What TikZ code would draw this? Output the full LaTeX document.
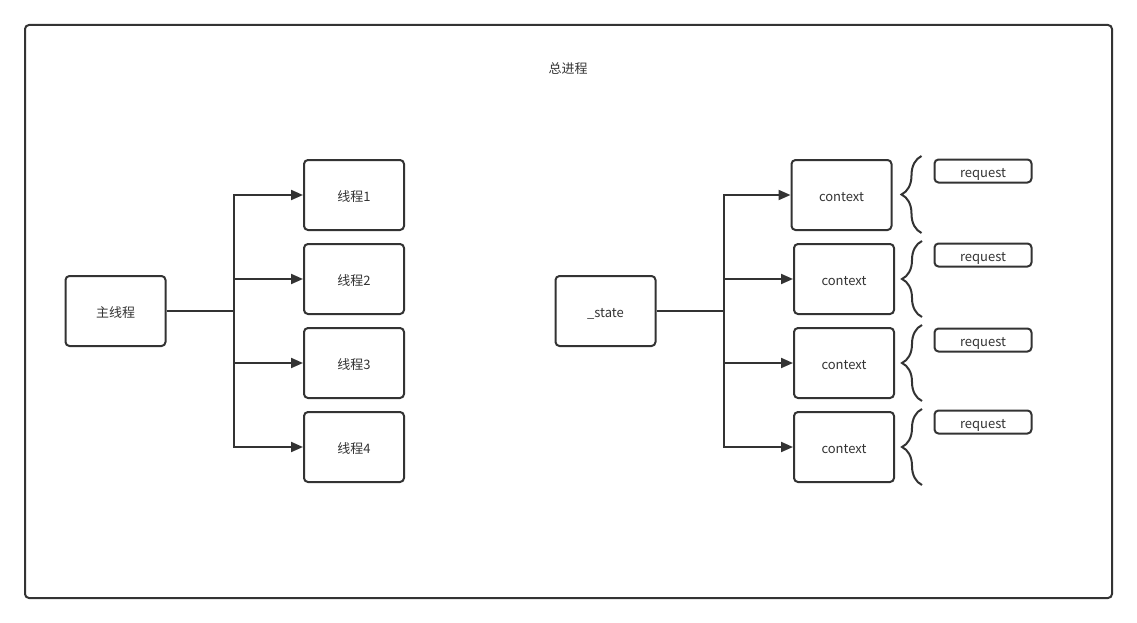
\documentclass[tikz,border=0pt]{standalone}
\usepackage{fontspec}
\setmainfont{Noto Sans CJK SC}
\usepackage{xcolor}
\usepackage{tikz}
\usetikzlibrary{arrows.meta,decorations.pathreplacing}
\definecolor{ink}{HTML}{333333}

\begin{document}
\begin{tikzpicture}[x=1pt, y=-1pt, >={Triangle[length=12pt,width=10pt]},
                    line width=2pt, color=ink, font=\fontsize{13}{15}\selectfont]

\tikzstyle{box}   = [rectangle, draw, rounded corners=4pt,
                      minimum width=100pt, minimum height=70pt, align=center,
                      text height=1.3em, text depth=0.1em]
\tikzstyle{reqbox} = [rectangle, draw, rounded corners=4pt,
                      minimum width=97pt, minimum height=23pt, inner sep=0pt,
                      text height=1.3em, text depth=0.1em]
\tikzstyle{curly} = [decorate, decoration={brace, amplitude=20pt}]

\useasboundingbox (0,0) rectangle (1137,623);

% ── Outer frame: the whole process ───────────────────
\node[draw, rounded corners=4pt, minimum width=1087pt, minimum height=573pt,
      inner sep=0pt] (proc) at (568.5,311.5) {};
\node[text height=1.3em, text depth=0.1em] (title) at (568,68) {总进程};

% ── Left side: main thread and workers ───────────────
\node[box] (main) at (115.5,311) {主线程};
\node[box] (th1)  at (354,195)   {线程1};
\node[box] (th2)  at (354,279)   {线程2};
\node[box] (th3)  at (354,363)   {线程3};
\node[box] (th4)  at (354,447)   {线程4};
\coordinate (lsplit) at (234,311);

% ── Right side: state and contexts ───────────────────
\node[box] (state) at (605.5,311) {\_state};
\node[box] (ctx1)  at (841.5,195) {context};
\node[box] (ctx2)  at (844,279)   {context};
\node[box] (ctx3)  at (844,363)   {context};
\node[box] (ctx4)  at (844,447)   {context};
\coordinate (rsplit) at (724,311);

\node[reqbox] (req1) at (983,171) {request};
\node[reqbox] (req2) at (983,255) {request};
\node[reqbox] (req3) at (983,340) {request};
\node[reqbox] (req4) at (983,422) {request};

% ── Arrows: left fan-out ─────────────────────────────
\draw (main) -- (lsplit);
\draw[->] (lsplit) |- (th1);
\draw[->] (lsplit) |- (th2);
\draw[->] (lsplit) |- (th3);
\draw[->] (lsplit) |- (th4);

% ── Arrows: right fan-out ────────────────────────────
\draw (state) -- (rsplit);
\draw[->] (rsplit) |- (ctx1);
\draw[->] (rsplit) |- (ctx2);
\draw[->] (rsplit) |- (ctx3);
\draw[->] (rsplit) |- (ctx4);

% ── Braces beside each context ───────────────────────
\draw[curly] ([xshift=29pt,yshift=-2pt]ctx1.south east) -- ([xshift=29pt,yshift=3pt]ctx1.north east);
\draw[curly] ([xshift=27pt,yshift=-2pt]ctx2.south east) -- ([xshift=27pt,yshift=2pt]ctx2.north east);
\draw[curly] ([xshift=27pt,yshift=-2pt]ctx3.south east) -- ([xshift=27pt,yshift=2pt]ctx3.north east);
\draw[curly] ([xshift=27pt,yshift=-2pt]ctx4.south east) -- ([xshift=27pt,yshift=2pt]ctx4.north east);

\end{tikzpicture}
\end{document}
